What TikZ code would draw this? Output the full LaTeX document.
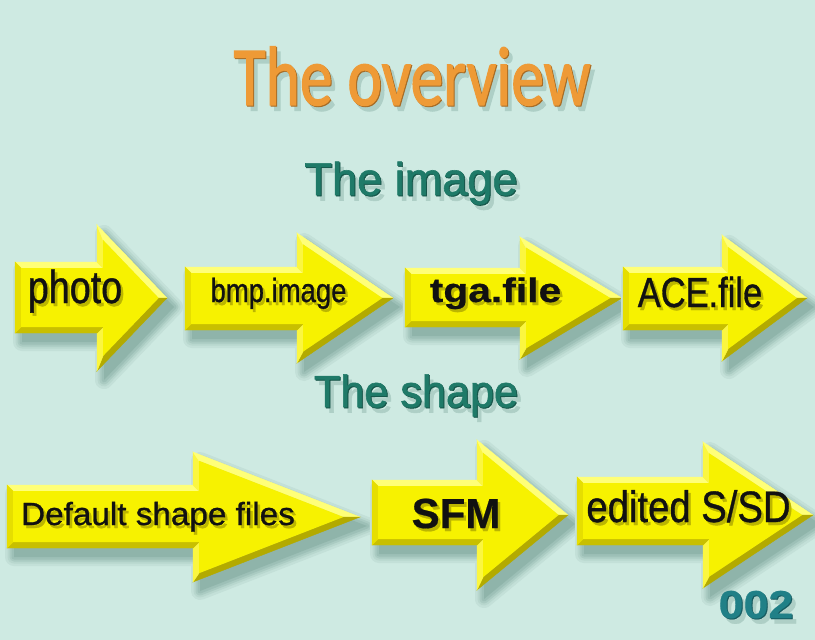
\documentclass[tikz,border=0pt]{standalone}
\usepackage{fontspec}
\usepackage{graphicx}
\setmainfont{Liberation Sans}
\newfontfamily\titlefont{Carlito}[FakeBold=1.6]
\newfontfamily\lblfont{Liberation Sans}[FakeBold=0.9]
\newfontfamily\lblbold{Liberation Sans}[FakeBold=0.5,UprightFont=*-Bold]
\newfontfamily\headfont{Liberation Sans}[FakeBold=1.2]

\definecolor{bg}{HTML}{CEEAE2}
\definecolor{shcore}{HTML}{7FA69C}
\definecolor{ylw}{HTML}{F7F200}
\definecolor{ylwlight}{HTML}{FFFF78}
\definecolor{ylwsoft}{HTML}{FBF640}
\definecolor{ylwmid}{HTML}{E6DE00}
\definecolor{ylwdark}{HTML}{C8BF00}
\definecolor{ylwdeep}{HTML}{B3AA00}
\definecolor{lblshadow}{HTML}{8C8400}
\definecolor{lbltext}{HTML}{111111}
\definecolor{headteal}{HTML}{1F7A68}
\definecolor{numteal}{HTML}{208087}
\definecolor{orng}{HTML}{EE9A36}

% Bevelled yellow arrow with a soft drop shadow.
% #1 shaft left, #2 shaft top, #3 shaft bottom, #4 head base x,
% #5 head top y, #6 tip x, #7 tip y
\newcommand\yarrow[7]{%
 \pgfmathsetmacro\arX{#1}%
 \pgfmathsetmacro\arT{#2}%
 \pgfmathsetmacro\arB{#3}%
 \pgfmathsetmacro\arH{#4}%
 \pgfmathsetmacro\arHT{#5}%
 \pgfmathsetmacro\arTip{#6}%
 \pgfmathsetmacro\arC{#7}%
 \pgfmathsetmacro\arHB{2*\arC-\arHT}%
 \pgfmathsetmacro\arHs{\arC-\arHT}%
 \pgfmathsetmacro\arHl{\arTip-\arH}%
 \pgfmathsetmacro\arLen{10*sqrt((\arHs/10)*(\arHs/10)+(\arHl/10)*(\arHl/10))}%
 \def\arBv{6}%
 \pgfmathsetmacro\arIT{\arHT+\arBv*\arHl/\arLen+(\arBv+\arBv*\arHs/\arLen)*\arHs/\arHl}%
 \pgfmathsetmacro\arIB{2*\arC-\arIT}%
 \pgfmathsetmacro\arITip{\arTip-\arBv*\arLen/\arHs}%
 \pgfmathsetmacro\arIX{\arX+\arBv}%
 \pgfmathsetmacro\arIH{\arH+\arBv}%
 \pgfmathsetmacro\arIt{\arT+\arBv}%
 \pgfmathsetmacro\arIb{\arB-\arBv}%
 \def\arOuter{(\arX,\arT) -- (\arH,\arT) -- (\arH,\arHT) -- (\arTip,\arC) -- (\arH,\arHB) -- (\arH,\arB) -- (\arX,\arB) -- cycle}%
 \begin{scope}[shift={(7,9)}]
  \foreach \w/\m in {18/14,13/28,9/45,5/62}{%
   \filldraw[draw=shcore!\m!bg,fill=shcore!\m!bg,line width=\w pt,line join=round] \arOuter;}
  \fill[shcore!80!bg] \arOuter;
 \end{scope}
 \begin{scope}[every path/.style={line width=0.4pt}]
  \filldraw[bevel=ylwlight] (\arX,\arT) -- (\arH,\arT) -- (\arIH,\arIt) -- (\arIX,\arIt) -- cycle;
  \filldraw[bevel=ylwsoft] (\arH,\arT) -- (\arH,\arHT) -- (\arIH,\arIT) -- (\arIH,\arIt) -- cycle;
  \filldraw[bevel=ylwlight] (\arH,\arHT) -- (\arTip,\arC) -- (\arITip,\arC) -- (\arIH,\arIT) -- cycle;
  \filldraw[bevel=ylwdeep] (\arTip,\arC) -- (\arH,\arHB) -- (\arIH,\arIB) -- (\arITip,\arC) -- cycle;
  \filldraw[bevel=ylwsoft] (\arH,\arHB) -- (\arH,\arB) -- (\arIH,\arIb) -- (\arIH,\arIB) -- cycle;
  \filldraw[bevel=ylwdark] (\arH,\arB) -- (\arX,\arB) -- (\arIX,\arIb) -- (\arIH,\arIb) -- cycle;
  \filldraw[bevel=ylwmid] (\arX,\arB) -- (\arX,\arT) -- (\arIX,\arIt) -- (\arIX,\arIb) -- cycle;
  \fill[ylw] (\arIX,\arIt) -- (\arIH,\arIt) -- (\arIH,\arIT) -- (\arITip,\arC) -- (\arIH,\arIB) -- (\arIH,\arIb) -- (\arIX,\arIb) -- cycle;
 \end{scope}
}

% Arrow label with a shadow on the yellow face.
% #1 name, #2 centre x, #3 baseline y, #4 size, #5 horizontal scale, #6 font, #7 text
\newcommand\arlabel[7]{%
 \node[lbl,text=lblshadow!55!ylw] (#1-s) at (#2+2.5,#3+3) {\fontsize{#4}{#4}\selectfont#6\scalebox{#5}[1]{#7}};
 \node[lbl,text=lbltext] (#1) at (#2,#3) {\fontsize{#4}{#4}\selectfont#6\scalebox{#5}[1]{#7}};
}

% Heading on the background with a soft shadow and darker rim.
% #1 name, #2 centre x, #3 baseline y, #4 font, #5 size, #6 scale, #7 colour, #8 text
\newcommand\heading[8]{%
 \node[lbl,text=shcore!40!bg] (#1-s) at (#2+4.5,#3+5.5) {\fontsize{#5}{#5}\selectfont#4\scalebox{#6}[1]{#8}};
 \node[lbl,text=#7!70!black] (#1-e) at (#2+1,#3+1) {\fontsize{#5}{#5}\selectfont#4\scalebox{#6}[1]{#8}};
 \node[lbl,text=#7] (#1) at (#2,#3) {\fontsize{#5}{#5}\selectfont#4\scalebox{#6}[1]{#8}};
}

\tikzset{
 lbl/.style={anchor=base,inner sep=0pt,outer sep=0pt},
 bevel/.style={fill=#1,draw=#1},
}

\begin{document}
\begin{tikzpicture}[x=1pt,y=-1pt]
 \useasboundingbox (0,0) rectangle (815,640);
 \fill[bg] (0,0) rectangle (815,640);

 % titles
 \heading{title}{412}{105}{\titlefont}{84}{0.78}{orng}{The overview}
 \heading{image}{411}{195}{\headfont}{46}{0.98}{headteal}{The image}
 \heading{shape}{416}{407}{\headfont}{45}{0.96}{headteal}{The shape}

 % image chain
 \yarrow{15}{262}{333}{97}{225}{167}{298}
 \arlabel{photo}{75}{303}{46}{0.82}{\lblfont}{photo}
 \yarrow{185}{267}{330}{297}{233}{393}{298}
 \arlabel{bmp}{278.5}{302}{33.5}{0.82}{\lblfont}{bmp.image}
 \yarrow{405}{268}{327}{520}{237}{622}{298}
 \arlabel{tga}{495.5}{302}{34}{1.2}{\lblbold}{tga.file}
 \yarrow{623}{267}{330}{722}{235}{807}{298}
 \arlabel{ace}{700}{307}{42}{0.82}{\lblfont}{ACE.file}

 % shape chain
 \yarrow{7}{485}{548}{193}{452}{360}{517}
 \arlabel{default}{158}{525}{32}{1.04}{\lblfont}{Default shape files}
 \yarrow{372}{480}{545}{477}{440}{568}{515}
 \arlabel{sfm}{456}{528}{42}{1.0}{\lblbold}{SFM}
 \yarrow{577}{477}{545}{703}{442}{813}{515}
 \arlabel{edited}{688.5}{522}{44}{0.87}{\lblfont}{edited S/SD}

 % page number
 \heading{pagenum}{756}{618}{\lblbold}{39}{1.15}{numteal}{002}
\end{tikzpicture}
\end{document}
